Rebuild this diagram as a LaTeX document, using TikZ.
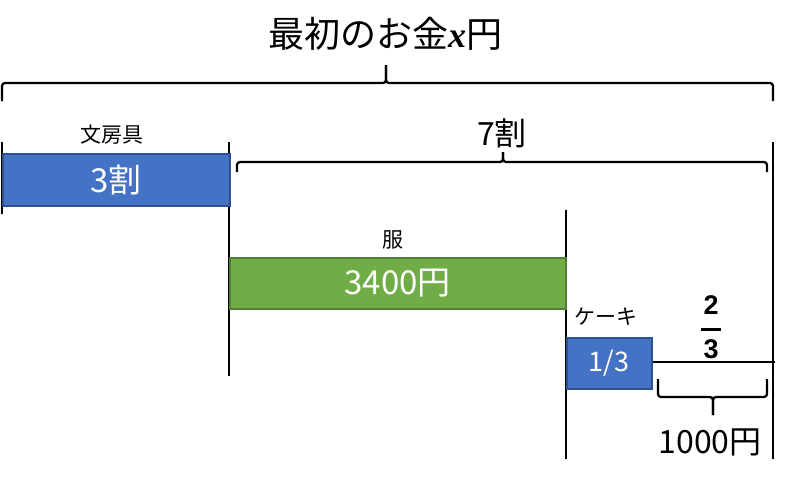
\documentclass[tikz,border=0pt]{standalone}
\usepackage{fontspec}
\setmainfont{Noto Sans CJK JP}
\newfontfamily\serifx{Liberation Serif}
\newfontfamily\fracfont{Liberation Sans}
\newcommand{\fsz}[1]{\fontsize{#1}{#1}\selectfont}
\definecolor{boxblue}{HTML}{4472C4}
\definecolor{boxblueline}{HTML}{2F528F}
\definecolor{boxgreen}{HTML}{70AD47}
\definecolor{boxgreenline}{HTML}{507E32}
\begin{document}
\begin{tikzpicture}[x=1pt,y=-1pt,
  vline/.style={line width=2.3pt,black},
  bracepath/.style={line width=2.3pt,black,rounded corners=3pt},
  barbox/.style={line width=1.5pt,text=white,inner sep=0pt,anchor=north west},
  bluebox/.style={barbox,draw=boxblueline,fill=boxblue},
  greenbox/.style={barbox,draw=boxgreenline,fill=boxgreen},
  lbl/.style={inner sep=0pt,text=black}]
\useasboundingbox (0,0) rectangle (792,490);

% title
\node[lbl] (title) at (385,34) {\fsz{36}最初のお金{\serifx\bfseries\itshape x}円};

% main brace
\coordinate (mbL) at (2,101); \coordinate (mbLc) at (2,83);
\coordinate (mbR) at (773,101); \coordinate (mbRc) at (773,83);
\coordinate (mbM) at (386,83); \coordinate (mbT) at (386,65);
\draw[bracepath] (mbL) -- (mbLc) -- (mbM) -- (mbT);
\draw[bracepath] (mbR) -- (mbRc) -- (mbM) -- (mbT);

% vertical lines
\coordinate (v1a) at (2,142);   \coordinate (v1b) at (2,214);
\coordinate (v2a) at (229,142); \coordinate (v2b) at (229,376);
\coordinate (v3a) at (566,210); \coordinate (v3b) at (566,459);
\coordinate (v4a) at (773,142); \coordinate (v4b) at (773,459);
\draw[vline] (v1a) -- (v1b);
\draw[vline] (v2a) -- (v2b);
\draw[vline] (v3a) -- (v3b);
\draw[vline] (v4a) -- (v4b);

% stationery
\node[lbl] (stlabel) at (112,135) {\fsz{21}文房具};
\node[bluebox,minimum width=227pt,minimum height=52pt] (stbox) at (2,153) {};
\node[lbl,text=white] (sttext) at (stbox.center) {\fsz{33}3割};

% 7 wari brace
\node[lbl] (sevenlabel) at (502,133) {\fsz{32}7割};
\coordinate (sbL) at (237,172); \coordinate (sbLc) at (237,162);
\coordinate (sbR) at (767,172); \coordinate (sbRc) at (767,162);
\coordinate (sbM) at (503,162); \coordinate (sbT) at (503,152);
\draw[bracepath] (sbL) -- (sbLc) -- (sbM) -- (sbT);
\draw[bracepath] (sbR) -- (sbRc) -- (sbM) -- (sbT);

% clothes
\node[lbl] (cllabel) at (393,240) {\fsz{21}服};
\node[greenbox,minimum width=336pt,minimum height=51pt] (clbox) at (229,257) {};
\node[lbl,text=white] (cltext) at (clbox.center) {\fsz{33}3400円};

% cake
\node[lbl] (cklabel) at (606,317) {\fsz{21}ケーキ};
\node[bluebox,minimum width=85pt,minimum height=51pt] (ckbox) at (566,337) {};
\node[lbl,text=white] (cktext) at (ckbox.center) {\fsz{27}1/3};

% remaining line
\coordinate (remR) at (775,362);
\draw[vline] (ckbox.east |- remR) -- (remR);

% fraction 2/3
\node[lbl] (fracnum) at (711,305) {\fracfont\bfseries\fsz{27}2};
\coordinate (fbarL) at (701,329); \coordinate (fbarR) at (721,329);
\draw[line width=3pt] (fbarL) -- (fbarR);
\node[lbl] (fracden) at (711,349) {\fracfont\bfseries\fsz{27}3};

% bottom brace
\coordinate (bbL) at (658,379); \coordinate (bbLc) at (658,397);
\coordinate (bbR) at (767,379); \coordinate (bbRc) at (767,397);
\coordinate (bbM) at (713,397); \coordinate (bbT) at (713,415);
\draw[bracepath] (bbL) -- (bbLc) -- (bbM) -- (bbT);
\draw[bracepath] (bbR) -- (bbRc) -- (bbM) -- (bbT);
\node[lbl] (yen) at (710,442) {\fsz{32}1000円};
\end{tikzpicture}
\end{document}
